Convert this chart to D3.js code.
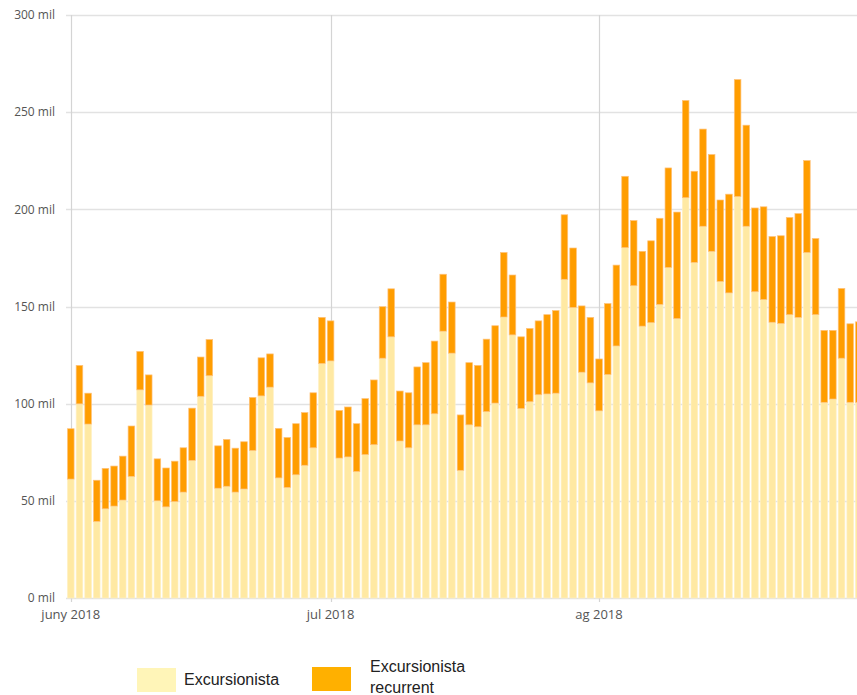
<!DOCTYPE html>
<html>
<head>
<meta charset="utf-8">
<script src="https://cdn.jsdelivr.net/npm/d3@7"></script>
<style>
    body { margin: 0; background: #fff; }
    .tick-label { font-family: "Open Sans", sans-serif; font-size: 12px; fill: #555; }
    .x-label { font-size: 13px; }
    .legend-label { font-family: "Liberation Sans", sans-serif; font-size: 16px; fill: #222; }
</style>
</head>
<body>
<div id="container"></div>
<script>
// Daily values, 1 June - 31 August 2018 (thousands)
const startDate = "2018-06-01";
const endDate = "2018-08-31";

const excursionista = [
    61.2, 99.9, 89.5, 39.4, 45.9, 47.3, 50.4, 62.6, 107.1, 99.3,
    50.0, 46.9, 49.6, 54.5, 70.8, 103.8, 114.4, 56.5, 57.5, 54.5,
    56.1, 75.9, 104.0, 108.5, 61.8, 56.9, 63.4, 68.3, 77.3, 120.7,
    122.0, 72.0, 72.6, 65.1, 73.8, 78.9, 123.4, 134.4, 80.8, 77.3,
    89.1, 89.1, 94.8, 137.3, 126.0, 65.7, 89.1, 88.1, 95.9, 100.3,
    144.6, 135.4, 97.5, 101.0, 104.6, 105.0, 105.4, 164.0, 149.5, 116.2,
    110.7, 96.3, 115.0, 129.7, 180.3, 160.7, 139.9, 141.7, 151.1, 170.1,
    143.8, 206.0, 172.7, 191.3, 178.4, 162.9, 157.0, 206.6, 191.3, 157.6,
    153.6, 141.9, 141.3, 145.8, 144.4, 177.8, 145.8, 100.7, 102.4, 123.4,
    100.7, 100.7
];

const recurrent = [
    25.9, 19.8, 15.9, 21.2, 20.8, 20.6, 22.6, 25.9, 19.8, 15.5,
    21.6, 20.0, 20.8, 22.8, 26.9, 20.2, 18.6, 21.8, 24.1, 22.6,
    24.3, 27.3, 19.6, 17.1, 25.5, 25.7, 26.3, 27.1, 28.3, 23.7,
    20.6, 24.5, 25.7, 24.6, 28.8, 33.3, 26.5, 24.7, 25.7, 28.3,
    29.8, 32.0, 37.4, 29.3, 26.3, 28.5, 32.0, 31.6, 37.3, 39.8,
    33.2, 30.8, 36.9, 37.7, 38.0, 40.8, 42.5, 33.2, 30.6, 34.1,
    33.7, 26.7, 36.5, 41.6, 36.7, 33.5, 38.5, 42.1, 44.3, 51.2,
    54.8, 50.0, 46.9, 50.0, 49.8, 41.9, 50.8, 60.2, 52.0, 43.1,
    47.7, 44.1, 45.1, 50.0, 53.4, 47.3, 39.2, 37.0, 35.3, 35.9,
    40.4, 41.4
];

const seriesNames = ["Excursionista", "Excursionista recurrent"];
const yTicks = [0, 50, 100, 150, 200, 250, 300];
const xTickDates = ["2018-06-01", "2018-07-01", "2018-08-01"];
const xTickLabels = ["juny 2018", "jul 2018", "ag 2018"];

const parseDate = d3.timeParse("%Y-%m-%d");
const dates = d3.timeDay.range(parseDate(startDate), d3.timeDay.offset(parseDate(endDate), 1));

const data = dates.map((d, i) => ({
    date: d,
    excursionista: excursionista[i],
    recurrent: recurrent[i]
}));

const width = 857, height = 695;
const plotLeft = 70.8, step = 8.66;
const plotTop = 15, plotBottom = 598;

const svg = d3.select("#container").append("svg")
    .attr("width", width)
    .attr("height", height);

const x = d3.scaleTime()
    .domain([dates[0], dates[dates.length - 1]])
    .range([plotLeft, plotLeft + step * (dates.length - 1)]);

const y = d3.scaleLinear()
    .domain([0, 300])
    .range([plotBottom, plotTop]);

// Horizontal gridlines
svg.append("g")
    .selectAll("line")
    .data(yTicks)
    .enter().append("line")
    .attr("x1", 66)
    .attr("x2", width)
    .attr("y1", d => Math.round(y(d)) + 0.5)
    .attr("y2", d => Math.round(y(d)) + 0.5)
    .style("stroke", "#e2e2e2")
    .style("stroke-width", 1.5);

// Vertical month lines
svg.append("g")
    .selectAll("line")
    .data(xTickDates)
    .enter().append("line")
    .attr("x1", d => Math.round(x(parseDate(d))) + 0.5)
    .attr("x2", d => Math.round(x(parseDate(d))) + 0.5)
    .attr("y1", plotTop)
    .attr("y2", plotBottom + 4)
    .style("stroke", "#d4d4d4")
    .style("stroke-width", 1.2);

// Stacked bars
const stack = d3.stack().keys(["excursionista", "recurrent"]);
const layers = stack(data);
const colors = ["#ffe9a3", "#ff9d00"];
const strokes = ["#fff0c2", "#ffc27a"];
const barWidth = 6.6;

svg.append("g")
    .selectAll("g")
    .data(layers)
    .enter().append("g")
    .style("fill", (d, i) => colors[i])
    .style("stroke", (d, i) => strokes[i])
    .style("stroke-width", 0.7)
    .selectAll("rect")
    .data(d => d)
    .enter().append("rect")
    .attr("x", d => x(d.data.date) - barWidth / 2)
    .attr("width", barWidth)
    .attr("y", d => y(d[1]))
    .attr("height", d => y(d[0]) - y(d[1]));

// Y axis labels
svg.append("g")
    .selectAll("text")
    .data(yTicks)
    .enter().append("text")
    .attr("class", "tick-label")
    .attr("x", 55)
    .attr("y", d => y(d))
    .attr("dy", "0.35em")
    .style("text-anchor", "end")
    .text(d => d + " mil");

// X axis labels
svg.append("g")
    .selectAll("text")
    .data(xTickDates)
    .enter().append("text")
    .attr("class", "tick-label x-label")
    .attr("x", d => x(parseDate(d)))
    .attr("y", 619)
    .style("text-anchor", "middle")
    .text((d, i) => xTickLabels[i]);

// Legend
const legendColors = ["#fff5b8", "#ffb000"];
const legend = svg.append("g");

legend.append("rect")
    .attr("x", 137).attr("y", 668)
    .attr("width", 39).attr("height", 24)
    .style("fill", legendColors[0]);

legend.append("text")
    .attr("class", "legend-label")
    .attr("x", 184).attr("y", 685)
    .text(seriesNames[0]);

legend.append("rect")
    .attr("x", 312).attr("y", 667)
    .attr("width", 39).attr("height", 24)
    .style("fill", legendColors[1]);

legend.append("text")
    .attr("class", "legend-label")
    .attr("x", 370).attr("y", 672)
    .text("Excursionista");

legend.append("text")
    .attr("class", "legend-label")
    .attr("x", 370).attr("y", 693)
    .text("recurrent");
</script>
</body>
</html>
